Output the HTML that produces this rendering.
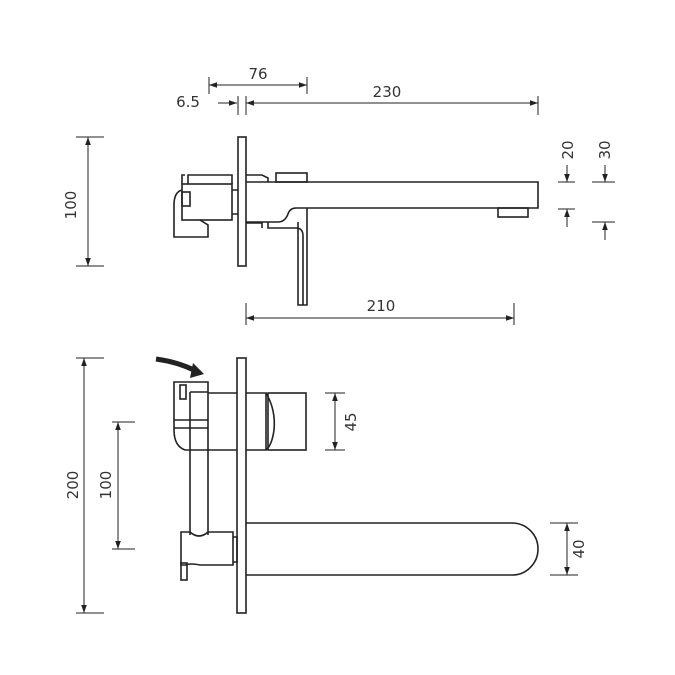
<!DOCTYPE html>
<html><head><style>
html,body{margin:0;padding:0;background:#fff;}
svg{display:block}
text{font-family:"DejaVu Sans","Liberation Sans",sans-serif;font-size:15px;fill:#333;}
</style></head><body>
<svg width="675" height="675" viewBox="0 0 675 675" xmlns="http://www.w3.org/2000/svg">
<defs>
<marker id="a" viewBox="0 0 10 10" refX="10" refY="5" markerWidth="8" markerHeight="8" orient="auto-start-reverse" markerUnits="userSpaceOnUse"><path d="M0,1.5 L10,5 L0,8.5z" fill="#222"/></marker>
</defs>
<g fill="none" stroke="#222" stroke-width="1.6">
<rect x="238" y="137" width="8" height="129"/>
<path d="M246,182 H538 V208 H296 Q290,208 288,214 Q285,222 278,222 H246"/>
<rect x="276" y="173" width="31" height="9"/>
<path d="M246,175 H262 L268,178 V182"/>
<rect x="498" y="208" width="30" height="9"/>
<path d="M268,222 V228 H296 Q303,228 303,236 V305 M298,222 V305 H307 V208"/>
<path d="M246,223 H262 V228"/>
<rect x="182" y="184" width="50" height="36"/>
<path d="M232,190 H238 M232,214 H238"/>
<path d="M188,184 V175 H232 V184"/>
<path d="M182,184 V175 H185"/>
<path d="M182,190 Q174,192 174,205 V237 H208 V225 L200,220"/>
<rect x="182" y="192" width="8" height="14"/>

<path d="M209,77 V94 M307,77 V94 M238,96 V115 M246,96 V115 M538,96 V115" stroke-width="1"/>
<line x1="209" y1="85" x2="307" y2="85" stroke-width="1" marker-start="url(#a)" marker-end="url(#a)"/>
<line x1="218" y1="103" x2="237" y2="103" stroke-width="1" marker-end="url(#a)"/>
<line x1="246" y1="103" x2="538" y2="103" stroke-width="1" marker-start="url(#a)" marker-end="url(#a)"/>
<path d="M76,137 H104 M76,266 H104" stroke-width="1"/>
<line x1="88" y1="137" x2="88" y2="266" stroke-width="1" marker-start="url(#a)" marker-end="url(#a)"/>
<path d="M558,182 H575 M558,209 H575 M592,182 H615 M592,222 H615" stroke-width="1"/>
<line x1="567" y1="165" x2="567" y2="182" stroke-width="1" marker-end="url(#a)"/>
<line x1="567" y1="227" x2="567" y2="209" stroke-width="1" marker-end="url(#a)"/>
<line x1="605" y1="165" x2="605" y2="182" stroke-width="1" marker-end="url(#a)"/>
<line x1="605" y1="240" x2="605" y2="222" stroke-width="1" marker-end="url(#a)"/>
<path d="M246,303 V325 M514,303 V325" stroke-width="1"/>
<line x1="246" y1="318" x2="514" y2="318" stroke-width="1" marker-start="url(#a)" marker-end="url(#a)"/>

<rect x="237" y="358" width="9" height="255"/>
<path d="M208,393 H237 M208,450 H237"/>
<path d="M246,393 H266 V450 H246"/>
<path d="M266,393 Q276,410 274,430 Q272,445 266,450"/>
<rect x="268" y="393" width="38" height="57"/>
<path d="M246,523 H512 A26,26 0 0 1 512,575 H246"/>
<path d="M174,382 H208 V450 H185 Q174,446 174,430 Z"/>
<rect x="180" y="385" width="6" height="14"/>
<path d="M190,392 H208 M174,420 H208 M190,392 V450 M174,428 H208"/>
<path d="M190,450 V535 M208,450 V535"/>
<path d="M181,532 H190 Q199,540 208,532 H233 V565 H200 Q190,563 186,565 H181 Z"/>
<path d="M233,537 H237 V562 H233"/>
<rect x="181" y="563" width="6" height="17"/>
<path d="M156,359 Q178,362 196,371" stroke-width="5"/>
<path d="M193,363 L204,374 L190,378 Z" fill="#222" stroke="none"/>
<path d="M76,358 H104 M76,613 H104" stroke-width="1"/>
<line x1="84" y1="358" x2="84" y2="613" stroke-width="1" marker-start="url(#a)" marker-end="url(#a)"/>
<path d="M112,422 H135 M112,549 H135" stroke-width="1"/>
<line x1="118" y1="422" x2="118" y2="549" stroke-width="1" marker-start="url(#a)" marker-end="url(#a)"/>
<path d="M325,393 H345 M325,450 H345" stroke-width="1"/>
<line x1="335" y1="393" x2="335" y2="450" stroke-width="1" marker-start="url(#a)" marker-end="url(#a)"/>
<path d="M550,523 H578 M550,575 H578" stroke-width="1"/>
<line x1="567" y1="523" x2="567" y2="575" stroke-width="1" marker-start="url(#a)" marker-end="url(#a)"/>
</g>
<text x="258" y="79" text-anchor="middle">76</text>
<text x="188" y="107" text-anchor="middle">6.5</text>
<text x="387" y="97" text-anchor="middle">230</text>
<text x="381" y="311" text-anchor="middle">210</text>
<text transform="translate(76,205) rotate(-90)" text-anchor="middle">100</text>
<text transform="translate(573,150) rotate(-90)" text-anchor="middle">20</text>
<text transform="translate(610,150) rotate(-90)" text-anchor="middle">30</text>
<text transform="translate(78,485) rotate(-90)" text-anchor="middle">200</text>
<text transform="translate(111,485) rotate(-90)" text-anchor="middle">100</text>
<text transform="translate(356,422) rotate(-90)" text-anchor="middle">45</text>
<text transform="translate(584,549) rotate(-90)" text-anchor="middle">40</text>
</svg>
</body></html>
